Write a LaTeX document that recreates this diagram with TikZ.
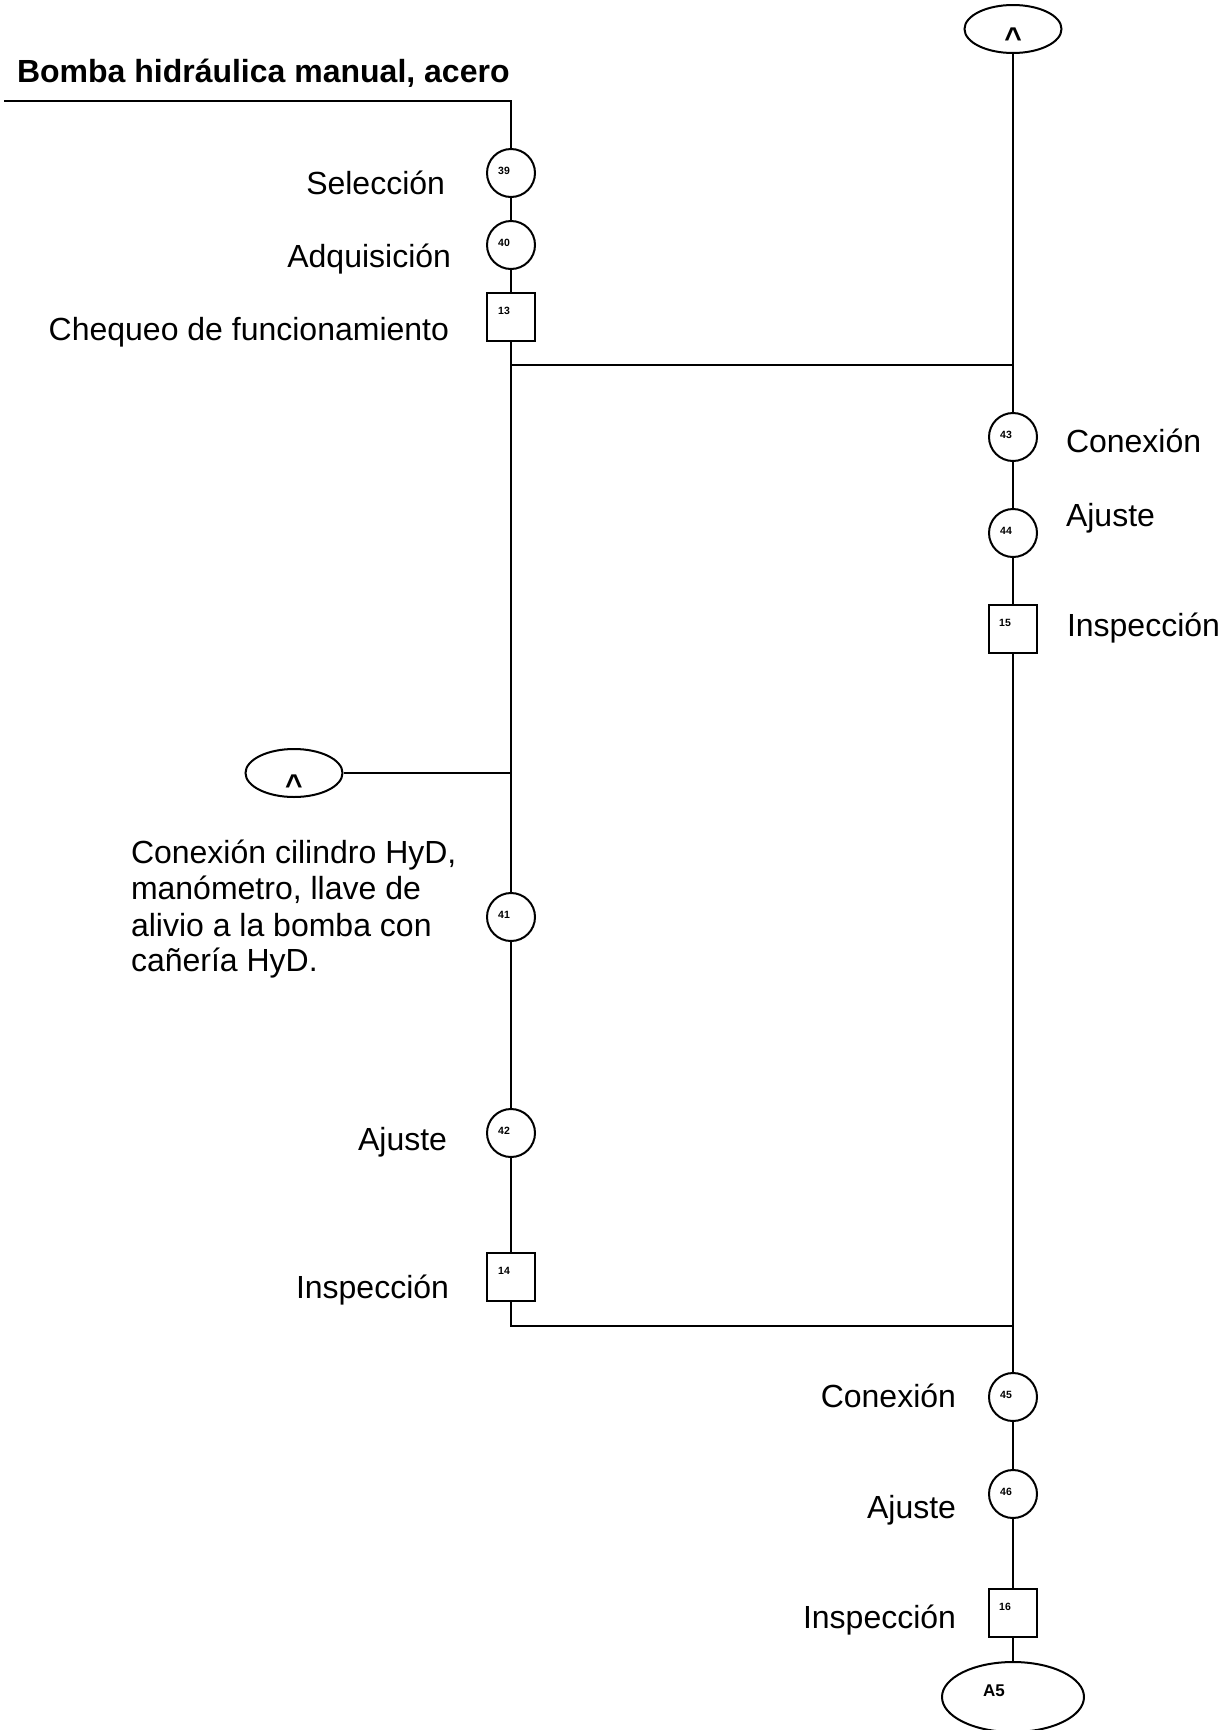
\documentclass[tikz,border=0pt]{standalone}
\usepackage{fontspec}
\setmainfont{Liberation Sans}
\usetikzlibrary{shapes.geometric}
\begin{document}
\begin{tikzpicture}[x=1pt,y=-1pt,line width=2pt,
  op/.style={draw,circle,minimum size=48pt,inner sep=0pt},
  insp/.style={draw,rectangle,minimum size=48pt,inner sep=0pt},
  term/.style={draw,ellipse,minimum width=97pt,minimum height=48pt,inner sep=0pt},
  num/.style={font=\bfseries\fontsize{10.5}{12}\selectfont,inner sep=0pt},
  lbl/.style={font=\fontsize{32}{36}\selectfont,inner sep=0pt},
  ttl/.style={font=\bfseries\fontsize{32}{36}\selectfont,inner sep=0pt},
  caret/.style={font=\bfseries\fontsize{30}{36}\selectfont,inner sep=0pt,anchor=base},
]
\useasboundingbox[fill=white] (0,0) rectangle (1226,1730);

% title
\node[ttl,anchor=base west] (title) at (16,82) {Bomba hidráulica manual, acero};
\coordinate (tstart) at (4,101);
\coordinate (tcorner) at (511,101);

% left column
\node[op] (c39) at (511,173) {};
\node[op] (c40) at (511,245) {};
\node[insp] (s13) at (511,317) {};
\node[op] (c41) at (511,917) {};
\node[op] (c42) at (511,1133) {};
\node[insp] (s14) at (511,1277) {};

% right column
\node[term] (etop) at (1013,29) {};
\node[op] (c43) at (1013,437) {};
\node[op] (c44) at (1013,533) {};
\node[insp] (s15) at (1013,629) {};
\node[op] (c45) at (1013,1397) {};
\node[op] (c46) at (1013,1494) {};
\node[insp] (s16) at (1013,1613) {};
\node[draw,ellipse,minimum width=142pt,minimum height=70pt,inner sep=0pt] (a5) at (1013,1697) {};

% left ellipse
\node[term] (eleft) at (294,773) {};

% junctions
\coordinate (j1) at (511,365);
\coordinate (j2) at (1013,365);
\coordinate (j3) at (511,773);
\coordinate (j4) at (511,1326);
\coordinate (j5) at (1013,1326);

% connectors
\draw (tstart) -- (tcorner) -- (c39);
\draw (c39) -- (c40);
\draw (c40) -- (s13);
\draw (s13) -- (c41);
\draw (c41) -- (c42);
\draw (c42) -- (s14);
\draw (s14) -- (j4) -- (j5);
\draw (j1) -- (j2);
\draw (eleft) -- (j3);
\draw (etop) -- (c43);
\draw (c43) -- (c44);
\draw (c44) -- (s15);
\draw (s15) -- (c45);
\draw (c45) -- (c46);
\draw (c46) -- (s16);
\draw (s16) -- (a5);

% numbers
\node[num] (n39) at (504,171) {39};
\node[num] (n40) at (504,243) {40};
\node[num] (n13) at (504,311) {13};
\node[num] (n41) at (504,915) {41};
\node[num] (n42) at (504,1131) {42};
\node[num] (n14) at (504,1271) {14};
\node[num] (n43) at (1006,435) {43};
\node[num] (n44) at (1006,531) {44};
\node[num] (n15) at (1005,623) {15};
\node[num] (n45) at (1006,1395) {45};
\node[num] (n46) at (1006,1492) {46};
\node[num] (n16) at (1005,1607) {16};
\node[font=\bfseries\fontsize{17}{20}\selectfont,inner sep=0pt] (na5) at (994,1691) {A5};
\node[caret] (ctop) at (1013,48) {\textasciicircum};
\node[caret] (cleft) at (294,795) {\textasciicircum};

% labels
\node[lbl,anchor=base east] (l39) at (446,194) {Selección};
\node[lbl,anchor=base east] (l40) at (452,267) {Adquisición};
\node[lbl,anchor=base east] (l13) at (450,340) {Chequeo de funcionamiento};
\node[lbl,anchor=base west] (l43) at (1065,452) {Conexión};
\node[lbl,anchor=base west] (l44) at (1065,526) {Ajuste};
\node[lbl,anchor=base west] (l15) at (1066,636) {Inspección};
\node[lbl,anchor=base west] (cap1) at (130,863) {Conexión cilindro HyD,};
\node[lbl,anchor=base west] (cap2) at (130,899) {manómetro, llave de};
\node[lbl,anchor=base west] (cap3) at (130,936) {alivio a la bomba con};
\node[lbl,anchor=base west] (cap4) at (130,971) {cañería HyD.};
\node[lbl,anchor=base east] (l42) at (448,1150) {Ajuste};
\node[lbl,anchor=base east] (l14) at (450,1298) {Inspección};
\node[lbl,anchor=base east] (l45) at (957,1407) {Conexión};
\node[lbl,anchor=base east] (l46) at (957,1518) {Ajuste};
\node[lbl,anchor=base east] (l16) at (957,1628) {Inspección};
\end{tikzpicture}
\end{document}
